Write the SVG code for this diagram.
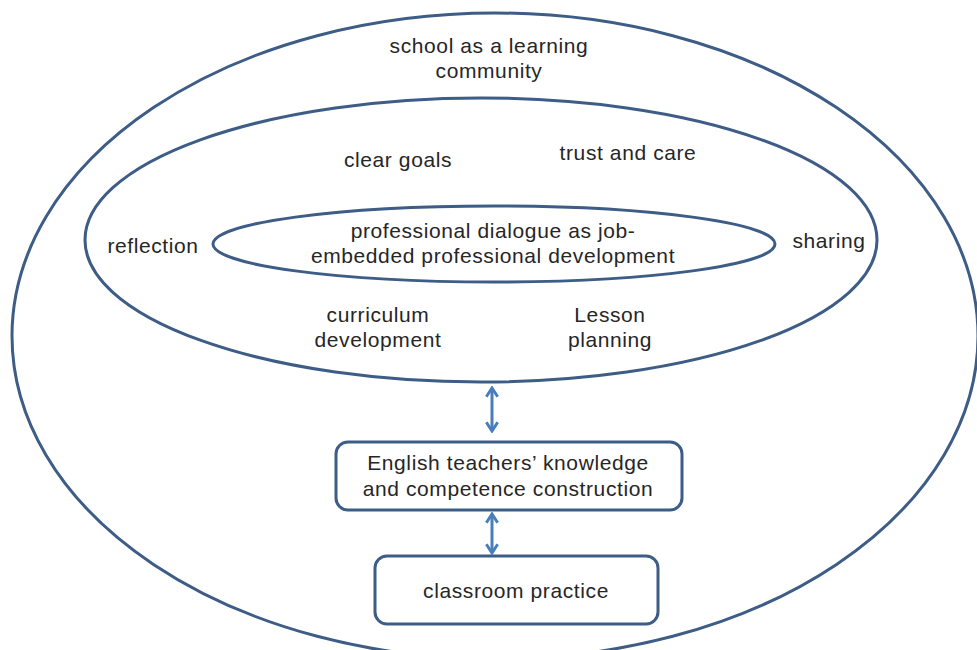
<svg xmlns="http://www.w3.org/2000/svg" width="977" height="650" viewBox="0 0 977 650">
<style>
.sh{fill:none;stroke:#3d5c86;stroke-width:3}
.bx{fill:#fff;stroke:#3d5c86;stroke-width:3}
.t{font-family:"Liberation Sans",Arial,sans-serif;font-size:21px;letter-spacing:0.6px;fill:#262626;text-anchor:middle}
.ar{stroke:#4a7ebb;stroke-width:3;fill:none}
</style>
<defs>
<marker id="ah" viewBox="0 0 10 10" refX="8.5" refY="5" markerWidth="4.5" markerHeight="4.5" orient="auto-start-reverse" markerUnits="strokeWidth">
<path d="M2,0.8 L8.5,5 L2,9.2" fill="none" stroke="#4a7ebb" stroke-width="2.2" stroke-linejoin="miter"/>
</marker>
</defs>
<rect width="977" height="650" fill="#fff"/>
<g id="outer">
<ellipse class="sh" cx="495" cy="336" rx="483" ry="323"/>
<text class="t" x="489" y="53">school as a learning</text>
<text class="t" x="489" y="78">community</text>
</g>
<g id="middle">
<ellipse class="sh" cx="481" cy="240" rx="396" ry="142"/>
<text class="t" x="398" y="167">clear goals</text>
<text class="t" x="628" y="160">trust and care</text>
<text class="t" x="153" y="253">reflection</text>
<text class="t" x="829" y="248">sharing</text>
<text class="t" x="378" y="322">curriculum</text>
<text class="t" x="378" y="347">development</text>
<text class="t" x="610" y="322">Lesson</text>
<text class="t" x="610" y="347">planning</text>
</g>
<g id="inner">
<ellipse class="sh" cx="494" cy="244" rx="281" ry="38"/>
<text class="t" x="493" y="238">professional dialogue as job-</text>
<text class="t" x="493" y="263">embedded professional development</text>
</g>
<g id="knowledge">
<rect class="bx" x="336" y="442" width="346" height="68" rx="12"/>
<text class="t" x="508" y="470">English teachers’ knowledge</text>
<text class="t" x="508" y="496">and competence construction</text>
</g>
<g id="practice">
<rect class="bx" x="375" y="556" width="283" height="68" rx="12"/>
<text class="t" x="516" y="598">classroom practice</text>
</g>
<g id="connectors">
<line class="ar" x1="492" y1="388" x2="492" y2="431" marker-start="url(#ah)" marker-end="url(#ah)"/>
<line class="ar" x1="492" y1="514" x2="492" y2="553" marker-start="url(#ah)" marker-end="url(#ah)"/>
</g>
</svg>
